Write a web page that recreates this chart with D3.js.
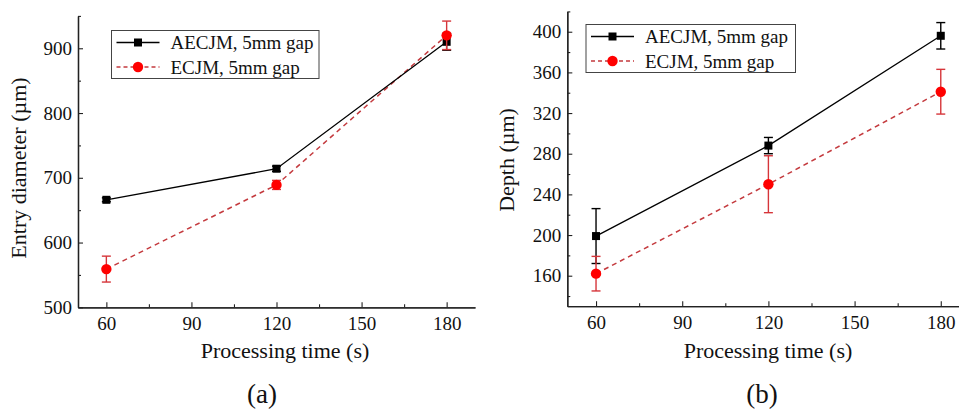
<!DOCTYPE html>
<html>
<head>
<meta charset="utf-8">
<script src="https://cdn.jsdelivr.net/npm/d3@7"></script>
<style>
  html, body { margin: 0; padding: 0; background: #fff; }
  svg text { font-family: "Liberation Serif", "DejaVu Serif", "Times New Roman", Times, serif !important; }
</style>
</head>
<body>
<svg id="chart" width="959" height="410"></svg>
<script>
// Processing time (s)
const times = [60, 120, 180];
const xTicks = [60, 90, 120, 150, 180];
const xMinor = [75, 105, 135, 165];

// Panel (a): entry diameter (µm)
const diamAECJM = [666, 714, 910];
const diamAECJMErr = [3, 4, 13];
const diamECJM = [559, 689, 920];
const diamECJMErr = [20, 7, 22];
const diamTicks = [500, 600, 700, 800, 900];
const diamMinor = [550, 650, 750, 850, 950];

// Panel (b): depth (µm)
const depthAECJM = [199, 288, 396];
const depthAECJMErr = [27, 8, 13];
const depthECJM = [162, 250, 341];
const depthECJMErr = [17, 28, 22];
const depthTicks = [160, 200, 240, 280, 320, 360, 400];
const depthMinor = [140, 180, 220, 260, 300, 340, 380, 420];

const seriesNames = ["AECJM, 5mm gap", "ECJM, 5mm gap"];

const svg = d3.select("#chart");
const BLACK = "#000";
const RED = "#ff0000";
const RED_LINE = "#c43a3e";
const RED_ERR = "#d6353a";

function drawPanel(cfg) {
  const g = svg.append("g");
  const x = d3.scaleLinear().domain([50, 190]).range([cfg.left, cfg.left + cfg.xSpan]);
  const y = d3.scaleLinear().domain(cfg.yDomain).range([cfg.bottom, cfg.top]);

  // axes: major and minor ticks point into the plot
  const yAxis = d3.axisLeft(y).tickValues(cfg.yTicks).tickSizeInner(-5).tickSizeOuter(0).tickPadding(6);
  const yAxisMinor = d3.axisLeft(y).tickValues(cfg.yMinor).tickSizeInner(-3).tickSizeOuter(0).tickFormat("");
  const xAxis = d3.axisBottom(x).tickValues(xTicks).tickSizeInner(-5).tickSizeOuter(0).tickPadding(9);
  const xAxisMinor = d3.axisBottom(x).tickValues(xMinor).tickSizeInner(-3).tickSizeOuter(0).tickFormat("");

  const styleAxis = sel => {
    sel.attr("font-family", null);
    sel.selectAll("path.domain").attr("stroke", "#222").attr("stroke-width", 1.3);
    sel.selectAll(".tick line").attr("stroke", "#222").attr("stroke-width", 1.1);
    sel.selectAll(".tick text").attr("font-size", 19).attr("fill", "#111");
  };

  g.append("g").attr("transform", `translate(${cfg.left},0)`).call(yAxisMinor).call(styleAxis);
  g.append("g").attr("transform", `translate(${cfg.left},0)`).call(yAxis).call(styleAxis);
  g.append("g").attr("transform", `translate(0,${cfg.bottom})`).call(xAxisMinor).call(styleAxis);
  g.append("g").attr("transform", `translate(0,${cfg.bottom})`).call(xAxis).call(styleAxis);

  // axis titles
  g.append("text")
    .attr("x", cfg.xTitleX).attr("y", 358)
    .attr("text-anchor", "middle").attr("font-size", 22).attr("fill", "#111")
    .text("Processing time (s)");
  g.append("text")
    .attr("transform", `translate(${cfg.yTitleX},${cfg.yTitleY}) rotate(-90)`)
    .attr("text-anchor", "middle").attr("font-size", 22).attr("fill", "#111")
    .text(cfg.yTitle);

  const line = d3.line().x(d => x(d.t)).y(d => y(d.v));
  const mk = (vals, errs) => times.map((t, i) => ({ t, v: vals[i], e: errs[i] }));
  const aData = mk(cfg.a, cfg.aErr);
  const eData = mk(cfg.e, cfg.eErr);

  const plot = g.append("g");

  // series lines
  plot.append("path").datum(eData).attr("d", line)
    .attr("fill", "none").attr("stroke", RED_LINE).attr("stroke-width", 1.5)
    .attr("stroke-dasharray", "5,4");
  plot.append("path").datum(aData).attr("d", line)
    .attr("fill", "none").attr("stroke", BLACK).attr("stroke-width", 1.3);

  // error bars with caps
  const errBars = (data, color) => {
    const eg = plot.append("g").attr("stroke", color).attr("stroke-width", 1.4);
    data.forEach(d => {
      const cx = x(d.t), y1 = y(d.v - d.e), y2 = y(d.v + d.e);
      eg.append("line").attr("x1", cx).attr("x2", cx).attr("y1", y1).attr("y2", y2);
      eg.append("line").attr("x1", cx - 4.5).attr("x2", cx + 4.5).attr("y1", y1).attr("y2", y1);
      eg.append("line").attr("x1", cx - 4.5).attr("x2", cx + 4.5).attr("y1", y2).attr("y2", y2);
    });
  };
  errBars(aData, BLACK);
  plot.selectAll("rect.sq").data(aData).enter().append("rect")
    .attr("x", d => x(d.t) - 4).attr("y", d => y(d.v) - 4)
    .attr("width", 8).attr("height", 8).attr("fill", BLACK);
  errBars(eData, RED_ERR);
  plot.selectAll("circle.dot").data(eData).enter().append("circle")
    .attr("cx", d => x(d.t)).attr("cy", d => y(d.v)).attr("r", 5.2).attr("fill", RED);

  // legend
  const L = cfg.legend;
  const lg = g.append("g");
  lg.append("rect").attr("x", L.x).attr("y", L.y).attr("width", L.w).attr("height", L.h)
    .attr("fill", "#fff").attr("stroke", "#444").attr("stroke-width", 1);
  const rows = [L.y + 12, L.y + 36.5];
  lg.append("line").attr("x1", L.x + 5).attr("x2", L.x + 48).attr("y1", rows[0]).attr("y2", rows[0])
    .attr("stroke", BLACK).attr("stroke-width", 1.3);
  lg.append("rect").attr("x", L.x + 26.5 - 4).attr("y", rows[0] - 4).attr("width", 8).attr("height", 8).attr("fill", BLACK);
  lg.append("line").attr("x1", L.x + 5).attr("x2", L.x + 48).attr("y1", rows[1]).attr("y2", rows[1])
    .attr("stroke", RED_LINE).attr("stroke-width", 1.5).attr("stroke-dasharray", "4,3");
  lg.append("circle").attr("cx", L.x + 26.5).attr("cy", rows[1]).attr("r", 5.2).attr("fill", RED);
  seriesNames.forEach((name, i) => {
    lg.append("text").attr("x", L.x + 59).attr("y", rows[i] + 6.5)
      .attr("font-size", 19).attr("fill", "#111").text(name);
  });

  // panel letter
  g.append("text").attr("x", cfg.letterX).attr("y", 403)
    .attr("text-anchor", "middle").attr("font-size", 27).attr("fill", "#111")
    .text(cfg.letter);
}

drawPanel({
  left: 78, xSpan: 397, top: 15.9, bottom: 307.3,
  yDomain: [500, 950], yTicks: diamTicks, yMinor: diamMinor,
  a: diamAECJM, aErr: diamAECJMErr, e: diamECJM, eErr: diamECJMErr,
  yTitle: "Entry diameter (µm)", yTitleX: 26, yTitleY: 168, xTitleX: 285,
  legend: { x: 111.5, y: 30.5, w: 207.5, h: 48 },
  letter: "(a)", letterX: 262
});

drawPanel({
  left: 567.3, xSpan: 402.2, top: 11.4, bottom: 306.2,
  yDomain: [130, 420], yTicks: depthTicks, yMinor: depthMinor,
  a: depthAECJM, aErr: depthAECJMErr, e: depthECJM, eErr: depthECJMErr,
  yTitle: "Depth (µm)", yTitleX: 514, yTitleY: 160, xTitleX: 768,
  legend: { x: 586, y: 24.5, w: 209.5, h: 48 },
  letter: "(b)", letterX: 762
});
</script>
</body>
</html>
